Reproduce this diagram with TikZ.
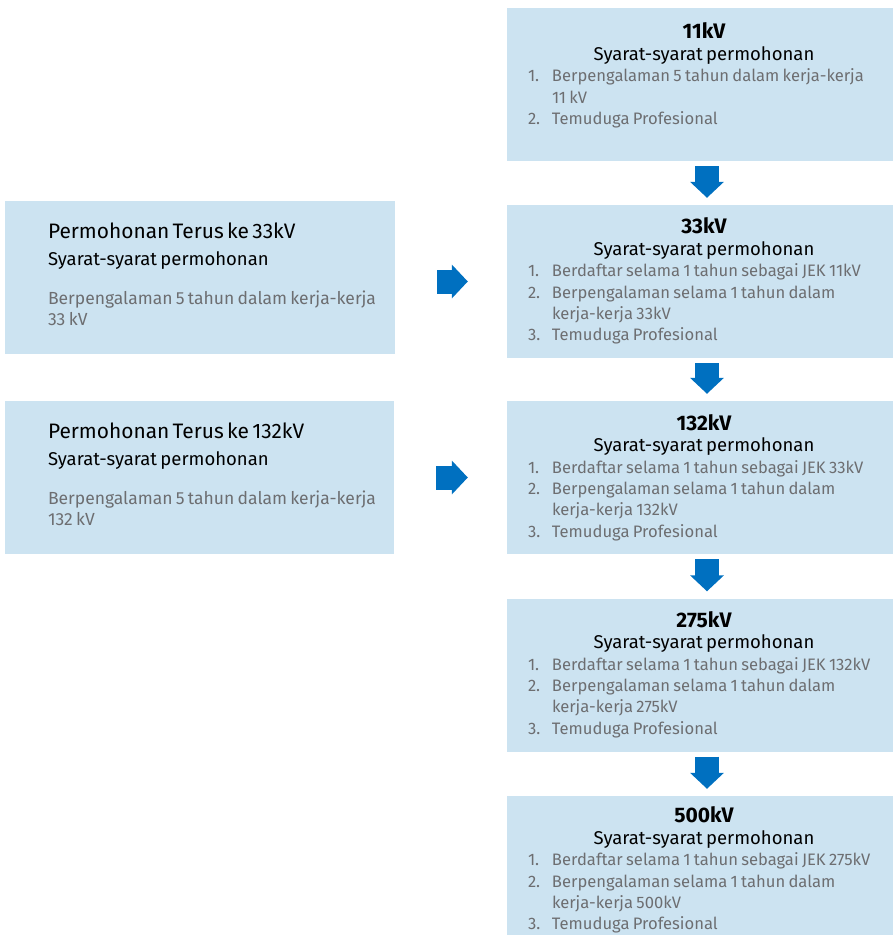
\documentclass[tikz,border=0pt]{standalone}
\usepackage{fontspec}
\setmainfont{Fira Sans}
\usetikzlibrary{positioning, arrows.meta}
\definecolor{panelblue}{HTML}{CCE3F1}
\definecolor{flowblue}{HTML}{0070C0}
\definecolor{itemgray}{HTML}{6D6E71}
\tikzstyle{flow} = [draw=flowblue, line width=24pt, -{Triangle[length=16pt, width=33pt]}]

\begin{document}
\begin{tikzpicture}[
  x=1pt, y=-1pt,
  panel/.style={fill=panelblue, minimum height=153pt, inner sep=0pt},
  stage/.style={panel, minimum width=394pt},
  direct/.style={panel, minimum width=390pt},
  stagetext/.style={text width=352pt, align=left, inner sep=0pt},
  directtext/.style={text width=345pt, align=left, inner sep=0pt, anchor=west, yshift=3pt}
]
\useasboundingbox (0,0) rectangle (893,935);

% right column: one box per voltage level
\node[stage] (b11) at (704,84.5) {};
\node[stage] (b33) at (704,281.5) {};
\node[stage] (b132) at (704,477.5) {};
\node[stage] (b275) at (704,675) {};
\node[stage] (b500) at (704,872.5) {};

% left column: direct applications
\node[direct] (p33) at (200,277.5) {};
\node[direct, minimum width=389pt] (p132) at (199.5,477.5) {};

\node[stagetext, below=15pt of b11.north] (t11) {%
  {\centering\fontsize{21}{21.5}\selectfont\bfseries 11kV\par
  \fontsize{18.5}{21.5}\selectfont\mdseries Syarat-syarat permohonan\par}
  \color{itemgray}\fontsize{16.6}{21.3}\selectfont
  \makebox[24pt][l]{1.}Berpengalaman 5 tahun dalam kerja-kerja\\
  \hspace*{24pt}11 kV\\
  \makebox[24pt][l]{2.}Temuduga Profesional\par};

\node[stagetext, below=13pt of b33.north] (t33) {%
  {\centering\fontsize{21}{21.5}\selectfont\bfseries 33kV\par
  \fontsize{18.5}{21.5}\selectfont\mdseries Syarat-syarat permohonan\par}
  \color{itemgray}\fontsize{16.6}{21.3}\selectfont
  \makebox[24pt][l]{1.}Berdaftar selama 1 tahun sebagai JEK 11kV\\
  \makebox[24pt][l]{2.}Berpengalaman selama 1 tahun dalam\\
  \hspace*{24pt}kerja-kerja 33kV\\
  \makebox[24pt][l]{3.}Temuduga Profesional\par};

\node[stagetext, below=13.5pt of b132.north] (t132) {%
  {\centering\fontsize{21}{21.5}\selectfont\bfseries 132kV\par
  \fontsize{18.5}{21.5}\selectfont\mdseries Syarat-syarat permohonan\par}
  \color{itemgray}\fontsize{16.6}{21.3}\selectfont
  \makebox[24pt][l]{1.}Berdaftar selama 1 tahun sebagai JEK 33kV\\
  \makebox[24pt][l]{2.}Berpengalaman selama 1 tahun dalam\\
  \hspace*{24pt}kerja-kerja 132kV\\
  \makebox[24pt][l]{3.}Temuduga Profesional\par};

\node[stagetext, below=13pt of b275.north] (t275) {%
  {\centering\fontsize{21}{21.5}\selectfont\bfseries 275kV\par
  \fontsize{18.5}{21.5}\selectfont\mdseries Syarat-syarat permohonan\par}
  \color{itemgray}\fontsize{16.6}{21.3}\selectfont
  \makebox[24pt][l]{1.}Berdaftar selama 1 tahun sebagai JEK 132kV\\
  \makebox[24pt][l]{2.}Berpengalaman selama 1 tahun dalam\\
  \hspace*{24pt}kerja-kerja 275kV\\
  \makebox[24pt][l]{3.}Temuduga Profesional\par};

\node[stagetext, below=11pt of b500.north] (t500) {%
  {\centering\fontsize{21}{21.5}\selectfont\bfseries 500kV\par
  \fontsize{18.5}{21.5}\selectfont\mdseries Syarat-syarat permohonan\par}
  \color{itemgray}\fontsize{16.6}{21.3}\selectfont
  \makebox[24pt][l]{1.}Berdaftar selama 1 tahun sebagai JEK 275kV\\
  \makebox[24pt][l]{2.}Berpengalaman selama 1 tahun dalam\\
  \hspace*{24pt}kerja-kerja 500kV\\
  \makebox[24pt][l]{3.}Temuduga Profesional\par};

\node[directtext, right=43pt of p33.west] (d33) {%
  \fontsize{20.9}{21}\selectfont Permohonan Terus ke 33kV\par
  \fontsize{18.5}{27}\selectfont Syarat-syarat permohonan\par
  \vspace{18pt}\color{itemgray}\fontsize{17.5}{21}\selectfont
  Berpengalaman 5 tahun dalam kerja-kerja\\
  33 kV\par};

\node[directtext, right=43pt of p132.west] (d132) {%
  \fontsize{20.9}{21}\selectfont Permohonan Terus ke 132kV\par
  \fontsize{18.5}{27}\selectfont Syarat-syarat permohonan\par
  \vspace{18pt}\color{itemgray}\fontsize{17.5}{21}\selectfont
  Berpengalaman 5 tahun dalam kerja-kerja\\
  132 kV\par};

% arrows
\draw[flow, shorten <=5pt, shorten >=7pt] ([xshift=3pt]b11.south) -- ([xshift=3pt]b33.north);
\draw[flow, shorten <=5pt, shorten >=7pt] ([xshift=3pt]b33.south) -- ([xshift=3pt]b132.north);
\draw[flow, shorten <=5pt, shorten >=7pt] ([xshift=3pt]b132.south) -- ([xshift=3pt]b275.north);
\draw[flow, shorten <=5pt, shorten >=7pt] ([xshift=3pt]b275.south) -- ([xshift=3pt]b500.north);
\draw[flow, shorten <=42pt, shorten >=39pt] (p33.east |- b33.west) -- (b33.west);
\draw[flow, shorten <=42pt, shorten >=39pt] (p132.east |- b132.west) -- (b132.west);

\end{tikzpicture}
\end{document}
